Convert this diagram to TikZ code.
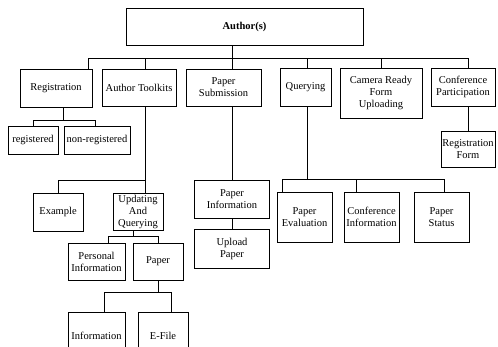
\documentclass[tikz,border=0pt]{standalone}
\usepackage{fontspec}
\setmainfont{Liberation Serif}
\usetikzlibrary{positioning}
\begin{document}
\begin{tikzpicture}[x=1pt, y=-1pt, line width=.8pt,
	box/.style={draw, align=center, inner sep=1pt, font=\fontsize{10.5}{12}\selectfont}]

	\useasboundingbox (0,0) rectangle (498,347);
	\clip (0,0) rectangle (498,347);

	% top level
	\node [box, minimum width=237, minimum height=37, font=\bfseries\fontsize{10.5}{12}\selectfont] (author) at (244.5,26.5) {Author(s)};

	\node [box, minimum width=72, minimum height=38] (reg) at (56,88) {Registration};
	\node [box, minimum width=74, minimum height=37] (tool) at (139,87.5) {Author Toolkits};
	\node [box, minimum width=75, minimum height=37] (sub) at (223.5,87.5) {Paper\\Submission};
	\node [box, minimum width=51, minimum height=38] (query) at (305.5,87) {Querying};
	\node [box, minimum width=82, minimum height=50] (camera) at (381,93) {Camera Ready\\Form\\Uploading};
	\node [box, minimum width=64, minimum height=38] (conf) at (463,87) {Conference\\Participation};

	% second level
	\node [box, minimum width=50, minimum height=28] (regd) at (33,140) {registered};
	\node [box, minimum width=66, minimum height=28] (nonreg) at (97,140) {non-registered};
	\node [box, minimum width=54, minimum height=36] (regform) at (468,149) {Registration\\Form};
	\node [box, minimum width=50, minimum height=38] (example) at (58,212) {Example};
	\node [box, minimum width=50, minimum height=37] (upd) at (138,211.5) {Updating\\And\\Querying};
	\node [box, minimum width=75, minimum height=38] (pinfo) at (232,199) {Paper\\Information};
	\node [box, minimum width=75, minimum height=39] (upload) at (232,248.5) {Upload\\Paper};
	\node [box, minimum width=55, minimum height=50] (peval) at (304.5,217) {Paper\\Evaluation};
	\node [box, minimum width=55, minimum height=50] (cinfo) at (371.5,217) {Conference\\Information};
	\node [box, minimum width=55, minimum height=50] (pstatus) at (441.5,217) {Paper\\Status};

	% lower levels
	\node [box, minimum width=57, minimum height=37] (persinfo) at (96.5,261.5) {Personal\\Information};
	\node [box, minimum width=50, minimum height=37] (paper) at (158,261.5) {Paper};
	\node [box, minimum width=57, minimum height=48] (info) at (96.5,336) {Information};
	\node [box, minimum width=50, minimum height=48] (efile) at (163,336) {E-File};

	% connectors
	\coordinate (bus1) at (232,58);
	\draw ([xshift=-12.5]author.south) -- (bus1);
	\foreach \n/\dx in {reg/32, tool/6, sub/8.5, query/1.5, camera/0, conf/5}
		\draw (bus1) -| ([xshift=\dx]\n.north);

	\coordinate (bus2) at (63,120);
	\draw ([xshift=7]reg.south) -- (bus2);
	\foreach \n/\dx in {regd/0, nonreg/-2}
		\draw (bus2) -| ([xshift=\dx]\n.north);

	\draw ([xshift=5]conf.south) -- (regform.north);

	\coordinate (bus3) at (145,180);
	\draw ([xshift=6]tool.south) -- (bus3);
	\foreach \n/\dx in {example/0, upd/7}
		\draw (bus3) -| ([xshift=\dx]\n.north);

	\draw (sub.south -| pinfo.north) -- (pinfo.north);
	\draw (pinfo.south) -- (upload.north);

	\coordinate (bus4) at (307,179);
	\draw ([xshift=1.5]query.south) -- (bus4);
	\foreach \n/\dx in {peval/-22.5, cinfo/-15.5, pstatus/2.5}
		\draw (bus4) -| ([xshift=\dx]\n.north);

	\coordinate (bus5) at (133,236);
	\draw ([xshift=-5]upd.south) -- (bus5);
	\foreach \n/\dx in {persinfo/11.5, paper/0}
		\draw (bus5) -| ([xshift=\dx]\n.north);

	\coordinate (bus6) at (158,292);
	\draw (paper.south) -- (bus6);
	\foreach \n/\dx in {info/7.5, efile/8}
		\draw (bus6) -| ([xshift=\dx]\n.north);

\end{tikzpicture}
\end{document}
